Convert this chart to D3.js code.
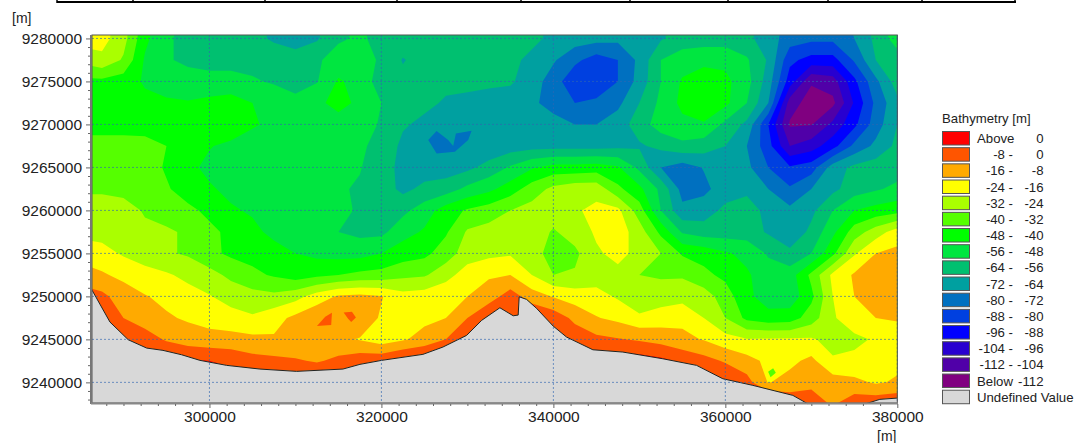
<!DOCTYPE html>
<html>
<head>
<meta charset="utf-8">
<script src="https://cdn.jsdelivr.net/npm/d3@7"></script>
<style>
  html, body { margin: 0; padding: 0; background: #fff; }
  svg { display: block; }
  text { font-family: "Liberation Sans", Arial, sans-serif; fill: #222; }
  .axis .domain { display: none; }
  .axis line { stroke: #666; }
</style>
</head>
<body>
<svg width="1078" height="443"></svg>
<script>
// Svg Canvas
const svg = d3.select("svg");

// Band limits (m) and colours, from the legend, shallow to deep
const bandColors = ["#ff0000", "#ff5500", "#ffaa00", "#ffff00", "#aaff00", "#55ff00", "#00ff00", "#00e640",
    "#00c070", "#00a0a0", "#0070c0", "#0040e0", "#0000ff", "#2800d0", "#5000a8", "#800080"];
const bandTops = [0, -8, -16, -24, -32, -40, -48, -56, -64, -72, -80, -88, -96, -104, -112];
const undefinedColor = "#d8d8d8";

const legendLow = ["Above", "-8 -", "-16 -", "-24 -", "-32 -", "-40 -", "-48 -", "-56 -", "-64 -", "-72 -", "-80 -", "-88 -", "-96 -", "-104 -", "-112 -", "Below"];
const legendHigh = ["0", "0", "-8", "-16", "-24", "-32", "-40", "-48", "-56", "-64", "-72", "-80", "-88", "-96", "-104", "-112"];

// Axis ticks
const xTicks = [300000, 320000, 340000, 360000, 380000];
const yTicks = [9240000, 9245000, 9250000, 9255000, 9260000, 9265000, 9270000, 9275000, 9280000];

// Depth below datum (m), 2500 m grid.
// First row is y = 9282500, last row y = 9237500. First column x = 285000, last x = 382500.
const depthRows = [
    [18,20,28,44,54,58,60,60,62,65,70,66,58,55,58,60,60,60,60,60,61,62,65,67,68,69,70,66,62,61,61,63,68,74,76,76,70,60,50,46],
    [20,21,29,46,55,58,60,60,62,65,68,65,57,55,58,60,60,60,60,60,61,62,66,68,69,70,70,65,60,60,60,62,68,76,78,78,72,62,52,48],
    [30,26,33,49,55,58,59,58,59,60,60,57,53,50,58,64.5,61,61,62,62,62,66,71,78,84,80,70,56,52,50,50,55,65,86,91,91,79,64,60,58],
    [42,42,44,49,51,52,53,54,55,57,60,56.5,47,51,60,62,62,62,62,63,63,68,76,86,87,80,69,56,47,44,46,53,68,92,111,108,90,74,60,55],
    [44,44,45,46,47,47.5,46,44,48,50,53,50,45,50,56,60,62,65,66,66,68,70,76,80,78,74,64,54,46,41,46,56,72,108,116,114,95,78,66,62],
    [43,43,44,45,45,44,42,42,47,50,52,52,52,52,57,63,66,70,71,69,68,68,68,72,72,68,60,52,50,49,58,66,88,113,112.5,102,90,76,64,60],
    [37,37,36,36,40,44,47.5,50,52,54,54,54,54,55,58,66,70,71,71,70,68,67,67,67,67,66,65,62,58,60,64,72,85,104,100,91,78,70,62,58],
    [36,36,35,36,41,46,50,51,52,53,53,53,53,55.5,61,66,68,68,66,61,55,49,45,45,44,47,58,72,76,71.5,68,70,80,87,84,68,62,60,60,58],
    [34,34,35,36,39,44,47,50,52,53,54,54,55,57,60,66,62,60,54,50,44,36,30,27,27,38,46,58,75,74,68,67,72,79,72,66,60,57,54,52],
    [26,26,28,33,35,38,42,47,49,52,53,54,55,56.5,60,58,52,44,39,36,32,29,27,25,22,22,36,56,70,68,62,58,68,70,66,56,48,45,43,42],
    [26,27,29,30,31,33,38,42,46,50,54,55,56,58,58,51,47,41,31,29,28,27,33,28,23,20,28,42,57,60,60,60,65,70,62,50,36,28,20,18],
    [20,21,25,28,31,33,38,41.5,43,45,48,50,51,51,48,44,42,36,28,26,25,29,35,34,25,22,26,32,41,43,47,50,57,62,56,42,25,16,14,13],
    [11,15,18,21,23,26,29,34,38,41,44,42,40,38,37,34,33,27,20,17,16,24,32,31,28,26,32,33,33,38,42,47,52,52,38,22,15,12,11,10],
    [5,6,12,15.5,18,21,23.5,27,29,30,27,20,15,14,15.5,21,20,18,16,12,4,12,16.5,20,21,25,32,28,27,28,36,46,52,53,42,24,16,12,11,10],
    [-2,2,8,12,15,17,19,21,23,19,14,10,8.5,11,17,19,18,16,8,0,4,0,3,10,15.5,18,22,20,18,24,32,42,45,44,36,25,19,16,15,14],
    [-4,-3,-1,4,9,12,13,13,14,15,15,14,14.5,16.5,20,17,13,8,0,-5,-5,-5,-2,3,6,7.5,9,11,14,16.5,21,23.5,23,23,23,27,26,23,21,20],
    [-5,-5,-4,-3,-2,-1,0,2,5,6,7,9,6,3,2,-2,-3,-4,-5,-5,-5,-5,-5,-5,-5,-5,-4,-2,1.5,5,9,13,18,18,14,23,22,20,18,18],
    [-5,-5,-5,-5,-5,-5,-5,-5,-5,-5,-5,-5,-5,-5,-5,-5,-5,-5,-5,-5,-5,-5,-5,-5,-5,-5,-5,-5,-5,-2,-1,5,16.5,13,10,12,14,17,15,14],
    [-5,-5,-5,-5,-5,-5,-5,-5,-5,-5,-5,-5,-5,-5,-5,-5,-5,-5,-5,-5,-5,-5,-5,-5,-5,-5,-5,-5,-5,-5,-5,-5,-5,2,4,9,3,2,1,1]
];
const gridX0 = 285000, gridY0 = 9282500, gridStep = 2500;

// Coastline, west to east (easting, northing)
const coastX = [286340, 288430, 290558, 292698, 294593, 296767, 298895, 302000, 305872, 310140, 315523, 317500, 320023, 324826, 327151, 329907, 331652, 333779, 335326, 335907, 336023, 336884, 338047, 339977, 341535, 344593, 348082, 352733, 356652, 359710, 363198, 367849, 369535, 376419, 377965, 380000];
const coastY = [9250733, 9247012, 9244954, 9243988, 9243721, 9243209, 9242558, 9241977, 9241547, 9241279, 9241547, 9242093, 9242558, 9243256, 9244105, 9245465, 9247209, 9248675, 9247744, 9247826, 9249954, 9249651, 9248605, 9246547, 9245267, 9243791, 9243523, 9242744, 9241977, 9240419, 9239651, 9238488, 9237535, 9237535, 9238023, 9238174];

// Small closed pockets too tight for the grid (easting, northing)
const shoalA = [[312500, 9246547], [313465, 9247628], [314244, 9248093], [314163, 9246663]];
const shoalB = [[315605, 9248140], [316570, 9248209], [317035, 9247558], [316488, 9247012], [316105, 9247442]];
const shoalC = [[364977, 9241233], [365559, 9241628], [365872, 9241116], [365256, 9240581]];
const basinA = [[325442, 9268175], [326419, 9269222], [327768, 9268175], [328349, 9267477], [328663, 9268954], [330489, 9269256], [330093, 9268175], [328546, 9266814], [326419, 9266628]];
const pockets = [[shoalA, -4], [shoalB, -4], [shoalC, -36], [basinA, -76]];

// Scales
const x = d3.scaleLinear().domain([286340, 380000]).range([92, 897.3]);
const y = d3.scaleLinear().domain([9237600, 9280400]).range([403, 35]);

const colorOf = d3.scaleThreshold()
    .domain(bandTops.slice().reverse())
    .range(bandColors.slice().reverse());

const plot = svg.append("g");

// Table edge cut off at the top of the picture
const tableCols = [57, 133, 265, 397, 521, 630, 728, 828, 922, 1015];
svg.append("line").attr("x1", 57).attr("x2", 1016).attr("y1", 2).attr("y2", 2).attr("stroke", "#000").attr("stroke-width", 2);
svg.selectAll(".tableCol").data(tableCols).join("line")
    .attr("class", "tableCol")
    .attr("x1", d => d).attr("x2", d => d).attr("y1", 0).attr("y2", 3)
    .attr("stroke", "#000").attr("stroke-width", 1.5);

// Sea area is used as a clip, land is whatever is left
const coast = coastX.map((d, i) => [x(d), y(coastY[i])]);
const seaRing = coast.concat([[x.range()[1], y.range()[1]], [x.range()[0], y.range()[1]]]);
const landRing = coast.concat([[x.range()[1], y.range()[0]], [x.range()[0], y.range()[0]]]);

svg.append("clipPath").attr("id", "sea").append("path").attr("d", d3.line()(seaRing) + "Z");

plot.append("rect")
    .attr("x", x.range()[0]).attr("y", y.range()[1])
    .attr("width", x.range()[1] - x.range()[0]).attr("height", y.range()[0] - y.range()[1])
    .attr("fill", bandColors[bandColors.length - 1]);

// Filled contours, deepest first so each shallower band paints over the last
const nCols = depthRows[0].length, nRows = depthRows.length;
const heights = depthRows.flat().map(d => -d);
const contours = d3.contours().size([nCols, nRows]).smooth(true).thresholds(bandTops.slice().reverse())(heights);

const gridPath = d3.geoPath(d3.geoTransform({
    point: function(cx, cy) {
        this.stream.point(x(gridX0 + (cx - 0.5) * gridStep), y(gridY0 - (cy - 0.5) * gridStep));
    }
}));

const sea = plot.append("g").attr("clip-path", "url(#sea)");
sea.selectAll(".band")
    .data(contours)
    .join("path")
        .attr("class", "band")
        .attr("d", gridPath)
        .attr("fill", d => colorOf(d.value));

sea.selectAll(".pocket")
    .data(pockets)
    .join("path")
        .attr("class", "pocket")
        .attr("d", d => d3.line()(d[0].map(p => [x(p[0]), y(p[1])])) + "Z")
        .attr("fill", d => colorOf(d[1]));

plot.append("path").attr("d", d3.line()(landRing) + "Z").attr("fill", undefinedColor);
plot.append("path").attr("d", d3.line()(coast)).attr("fill", "none").attr("stroke", "#222").attr("stroke-width", 1);

// Dashed grid
const gridColor = "#2f66b0";
plot.selectAll(".gx").data(xTicks).join("line")
    .attr("class", "gx")
    .attr("x1", d => x(d)).attr("x2", d => x(d))
    .attr("y1", y.range()[1]).attr("y2", y.range()[0])
    .attr("stroke", gridColor).attr("stroke-opacity", 0.65).attr("stroke-dasharray", "2,2");
plot.selectAll(".gy").data(yTicks).join("line")
    .attr("class", "gy")
    .attr("x1", x.range()[0]).attr("x2", x.range()[1])
    .attr("y1", d => y(d)).attr("y2", d => y(d))
    .attr("stroke", gridColor).attr("stroke-opacity", 0.65).attr("stroke-dasharray", "2,2");

// Frame
plot.append("rect")
    .attr("x", x.range()[0]).attr("y", y.range()[1])
    .attr("width", x.range()[1] - x.range()[0]).attr("height", y.range()[0] - y.range()[1])
    .attr("fill", "none").attr("stroke", "#555").attr("stroke-width", 1);
plot.append("line").attr("x1", 91).attr("x2", 91).attr("y1", 35).attr("y2", 404).attr("stroke", "#777").attr("stroke-width", 2);
plot.append("line").attr("x1", 91).attr("x2", 898).attr("y1", 403.5).attr("y2", 403.5).attr("stroke", "#888").attr("stroke-width", 2);

// Axes, major ticks labelled, minor ticks bare
const yMinor = d3.range(9238000, 9281000, 1000).filter(d => !yTicks.includes(d));
const xMinor = d3.range(288000, 381000, 2000).filter(d => !xTicks.includes(d));

const yAxis = svg.append("g").attr("class", "axis").attr("transform", "translate(90,0)")
    .call(d3.axisLeft(y).tickValues(yTicks).tickFormat(d3.format("d")).tickSize(4).tickPadding(4));
yAxis.selectAll("text").style("font-size", "15.5px");
svg.append("g").attr("class", "axis").attr("transform", "translate(90,0)")
    .call(d3.axisLeft(y).tickValues(yMinor).tickFormat("").tickSize(2));

const xAxis = svg.append("g").attr("class", "axis").attr("transform", "translate(0,404)")
    .call(d3.axisBottom(x).tickValues(xTicks).tickFormat(d3.format("d")).tickSize(4).tickPadding(3));
xAxis.selectAll("text").style("font-size", "15.5px");
svg.append("g").attr("class", "axis").attr("transform", "translate(0,404)")
    .call(d3.axisBottom(x).tickValues(xMinor).tickFormat("").tickSize(2));

svg.append("text").attr("x", 12).attr("y", 23).style("font-size", "14px").text("[m]");
svg.append("text").attr("x", 877).attr("y", 441).style("font-size", "14px").text("[m]");

// Legend
const legend = svg.append("g");
const legendY = i => 131 + i * 16.17;
legend.append("text").attr("x", 942).attr("y", 123).style("font-size", "13.2px").text("Bathymetry [m]");

legend.selectAll(".swatch")
    .data(bandColors.concat([undefinedColor]))
    .join("rect")
        .attr("class", "swatch")
        .attr("x", 942.5).attr("y", (d, i) => legendY(i) + 0.5)
        .attr("width", 27).attr("height", 13.5)
        .attr("fill", d => d)
        .attr("stroke", "#555").attr("stroke-width", 1);

legend.selectAll(".low")
    .data(legendLow)
    .join("text")
        .attr("class", "low")
        .attr("x", d => d === "Above" || d === "Below" ? 977 : 1013)
        .attr("y", (d, i) => legendY(i) + 12)
        .attr("text-anchor", d => d === "Above" || d === "Below" ? "start" : "end")
        .style("font-size", "13.2px")
        .text(d => d);

legend.selectAll(".high")
    .data(legendHigh)
    .join("text")
        .attr("class", "high")
        .attr("x", 1043.5)
        .attr("y", (d, i) => legendY(i) + 12)
        .attr("text-anchor", "end")
        .style("font-size", "13.2px")
        .text(d => d);

legend.append("text").attr("x", 977).attr("y", legendY(16) + 12).style("font-size", "13.2px").text("Undefined Value");
</script>
</body>
</html>
